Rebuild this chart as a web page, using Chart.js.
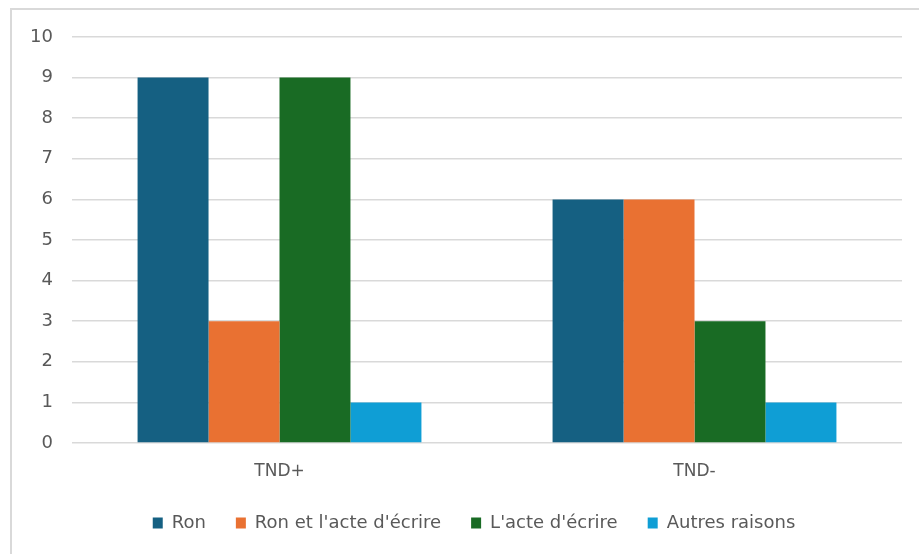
<!DOCTYPE html>
<html>
<head>
<meta charset="utf-8">
<script src="https://cdn.jsdelivr.net/npm/chart.js@4/dist/chart.umd.min.js"></script>
<style>
  html, body { margin: 0; padding: 0; background: #fff; }
  #wrap { width: 919px; height: 554px; position: relative; }
</style>
</head>
<body>
<div id="wrap"><canvas id="c" width="919" height="554"></canvas></div>
<script>
const categories = ['TND+', 'TND-'];
const seriesNames = ['Ron', "Ron et l'acte d'écrire", "L'acte d'écrire", 'Autres raisons'];
const ron = [9, 6];
const ronEtActe = [3, 6];
const acteEcrire = [9, 3];
const autres = [1, 1];
const seriesColors = ['#156082', '#E97132', '#196B24', '#0F9ED5'];

const textColor = '#595959';
const fontFamily = '"DejaVu Sans", "Liberation Sans", Arial, sans-serif';

// Light frame around the whole chart
const framePlugin = {
  id: 'frame',
  beforeDraw(chart) {
    const ctx = chart.ctx;
    ctx.save();
    ctx.fillStyle = '#ffffff';
    ctx.fillRect(0, 0, chart.width, chart.height);
    ctx.strokeStyle = '#d9d9d9';
    ctx.lineWidth = 2;
    ctx.strokeRect(11, 9, chart.width + 20, chart.height + 20);
    ctx.restore();
  }
};

// Nudge the legend row so it sits centred under the plot
const legendShift = {
  id: 'legendShift',
  afterLayout(chart) {
    const lg = chart.legend;
    if (lg) {
      lg.left += 23; lg.right += 23;
      lg.top -= 9; lg.bottom -= 9;
    }
  }
};

const values = [ron, ronEtActe, acteEcrire, autres];

new Chart(document.getElementById('c'), {
  type: 'bar',
  data: {
    labels: categories,
    datasets: seriesNames.map((name, i) => ({
      label: name,
      data: values[i],
      backgroundColor: seriesColors[i],
      borderWidth: 0,
      barPercentage: 1.0,
      categoryPercentage: 0.684
    }))
  },
  options: {
    responsive: false,
    animation: false,
    layout: { padding: { top: 37, right: 17, bottom: 3, left: 0 } },
    plugins: {
      legend: {
        position: 'bottom',
        labels: {
          color: textColor,
          font: { family: fontFamily, size: 18 },
          boxWidth: 10,
          boxHeight: 11,
          padding: 30
        }
      },
      tooltip: { enabled: false }
    },
    scales: {
      x: {
        grid: { display: false, drawTicks: false },
        border: { display: false },
        ticks: { color: textColor, font: { family: fontFamily, size: 17 }, padding: 18 },
        afterFit(scale) { scale.height = 50; }
      },
      y: {
        min: 0,
        max: 10,
        ticks: { stepSize: 1, color: textColor, font: { family: fontFamily, size: 18 }, padding: 19 },
        grid: { color: '#d9d9d9', lineWidth: 1.5, drawTicks: false },
        border: { display: false },
        afterFit(scale) { scale.width = 72; }
      }
    }
  },
  plugins: [framePlugin, legendShift]
});
</script>
</body>
</html>
